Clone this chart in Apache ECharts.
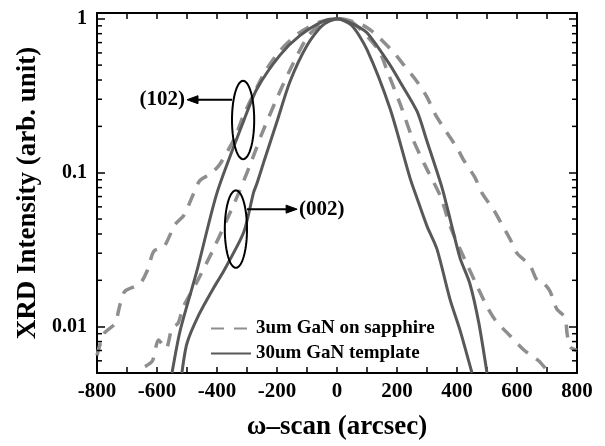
<!DOCTYPE html>
<html><head><meta charset="utf-8">
<script src="https://cdn.jsdelivr.net/npm/echarts@6/dist/echarts.min.js"></script>
<style>html,body{margin:0;padding:0;background:#fff}#c{width:605px;height:446px}</style>
</head><body><div id="c"></div>
<script>
// ---- data ----
const legendNames = ['3um GaN on sapphire', '30um GaN template'];

// 3um GaN on sapphire, (102) - wide dashed
const s102X = [-800,-777,-740,-723,-707,-657,-633,-610,-577,-540,-510,-477,-457,-417,-390,-340,-310,-262,-235,-190,-130,-60,10,90,133,190,223,267,300,327,360,400,423,460,483,523,550,577,600,643,667,690,710,733,760,767,777,800];
const s102Y = [0.0065,0.009,0.0105,0.014,0.017,0.019,0.023,0.031,0.033,0.046,0.053,0.074,0.089,0.1,0.114,0.17,0.24,0.375,0.47,0.62,0.8,0.95,1.0,0.9,0.78,0.6,0.5,0.39,0.31,0.24,0.19,0.145,0.12,0.093,0.074,0.057,0.046,0.037,0.03,0.025,0.02,0.019,0.017,0.013,0.0115,0.009,0.0074,0.007];

// 3um GaN on sapphire, (002) - narrow dashed
const s002X = [-640,-615,-595,-570,-550,-530,-512,-470,-415,-370,-330,-290,-250,-205,-158,-95,-40,10,60,140,167,212,250,293,345,381,458,500,528,575,625,672,700];
const s002Y = [0.0055,0.006,0.0082,0.0072,0.0098,0.0105,0.0135,0.019,0.031,0.048,0.072,0.112,0.18,0.29,0.46,0.78,0.95,1.0,0.92,0.62,0.46,0.275,0.17,0.112,0.07,0.043,0.02,0.0135,0.011,0.0088,0.007,0.006,0.0052];

// 30um GaN template, (102) - wide solid
const t102X = [-550,-523,-467,-400,-310,-267,-190,-123,-43,0,50,100,177,210,267,300,350,377,410,443,473,500];
const t102Y = [0.005,0.0094,0.023,0.074,0.22,0.35,0.58,0.78,0.97,1.0,0.93,0.81,0.5,0.39,0.25,0.16,0.08,0.05,0.028,0.019,0.0105,0.005];

// 30um GaN template, (002) - narrow solid
const t002X = [-517,-500,-460,-411,-378,-311,-278,-267,-243,-200,-157,-100,-50,0,50,100,177,243,267,300,333,377,410,450];
const t002Y = [0.005,0.0078,0.012,0.0179,0.0229,0.041,0.0745,0.085,0.119,0.215,0.39,0.67,0.9,1.0,0.9,0.63,0.26,0.093,0.068,0.045,0.032,0.015,0.0095,0.005];

// axes
const xMin = -800, xMax = 800, xTickStep = 100, xLabelStep = 200;
const yMin = 0.005, yMax = 1.09;
const yMinorTicks = [0.006,0.007,0.008,0.009,0.02,0.03,0.04,0.05,0.06,0.07,0.08,0.09,0.2,0.3,0.4,0.5,0.6,0.7,0.8,0.9];

// annotations (data space)
const annoNames = ['(102)', '(002)'];
const annoCenterX = [-313, -337];
const annoCenterY = [0.22, 0.043];
const annoTopY = [0.395, 0.0767];
const annoHalfW = [37, 37];
const arrowY = [0.298, 0.058];
const arrowFromX = [-350, -300];
const arrowToX = [-500, -133];

// ---- chart ----
const FONT = '"Liberation Serif","Times New Roman",serif';
const pairs = (xs, ys) => xs.map((x, i) => [x, ys[i]]);
const isPow10 = v => Math.abs(Math.log10(v) - Math.round(Math.log10(v))) < 1e-9;

const chart = echarts.init(document.getElementById('c'), null, {renderer: 'canvas'});

function lineSeries(name, xs, ys, color, width, type) {
  return {
    name, type: 'line', data: pairs(xs, ys), symbol: 'none', smooth: 0.25,
    color, lineStyle: {color, width, type}, itemStyle: {color}, z: 3
  };
}

const axisLineStyle = {show: true, onZero: false, lineStyle: {color: '#000', width: 2}};

const option = {
  animation: false,
  backgroundColor: '#fff',
  grid: {left: 97, right: 28, top: 13, bottom: 69, containLabel: false},
  legend: {
    data: legendNames, orient: 'vertical', left: 205, top: 314,
    itemWidth: 40, itemHeight: 14, itemGap: 6, selectedMode: false,
    itemStyle: {opacity: 0},
    textStyle: {fontFamily: FONT, fontWeight: 'bold', fontSize: 19, lineHeight: 17, color: '#000'}
  },
  xAxis: [{
    type: 'value', min: xMin, max: xMax, interval: xTickStep, position: 'bottom',
    name: 'ω–scan (arcsec)', nameLocation: 'middle', nameGap: 41,
    nameTextStyle: {fontFamily: FONT, fontWeight: 'bold', fontSize: 27, color: '#000'},
    axisLine: axisLineStyle,
    axisTick: {show: true, inside: true, length: 6, lineStyle: {color: '#000', width: 1.5}},
    axisLabel: {
      fontFamily: FONT, fontWeight: 'bold', fontSize: 21, color: '#000', margin: 8,
      formatter: v => (v % xLabelStep === 0 ? String(v) : '')
    },
    splitLine: {show: false}
  }, {
    type: 'value', min: xMin, max: xMax, interval: xTickStep, position: 'top',
    axisLine: axisLineStyle,
    axisTick: {show: true, inside: true, length: 6, lineStyle: {color: '#000', width: 1.5}},
    axisLabel: {show: false}, splitLine: {show: false}
  }],
  yAxis: [{
    type: 'log', logBase: 10, min: yMin, max: yMax, position: 'left',
    name: 'XRD Intensity (arb. unit)', nameLocation: 'middle', nameGap: 55,
    nameTextStyle: {fontFamily: FONT, fontWeight: 'bold', fontSize: 27, color: '#000'},
    axisLine: axisLineStyle,
    axisTick: {show: true, inside: true, length: 8, lineStyle: {color: '#000', width: 1.5}},
    axisLabel: {
      fontFamily: FONT, fontWeight: 'bold', fontSize: 20, color: '#000', margin: 10,
      formatter: v => (isPow10(v) ? String(+v.toPrecision(3)) : '')
    },
    splitLine: {show: false}
  }, {
    type: 'log', logBase: 10, min: yMin, max: yMax, position: 'right',
    axisLine: axisLineStyle,
    axisTick: {show: true, inside: true, length: 8, lineStyle: {color: '#000', width: 1.5}},
    axisLabel: {show: false}, splitLine: {show: false}
  }],
  series: [
    lineSeries(legendNames[0], s102X, s102Y, '#8e8e8e', 3.5, [13, 10]),
    lineSeries(legendNames[0], s002X, s002Y, '#8e8e8e', 3.5, [13, 10]),
    lineSeries(legendNames[1], t102X, t102Y, '#585858', 3, 'solid'),
    lineSeries(legendNames[1], t002X, t002Y, '#585858', 3, 'solid'),
    {
      type: 'custom', name: 'minorTicks', silent: true, z: 5,
      data: yMinorTicks.map(v => [xMin, v]),
      encode: {x: 0, y: 1},
      renderItem: (params, api) => {
        const v = yMinorTicks[params.dataIndex];
        const L = api.coord([xMin, v]);
        const R = api.coord([xMax, v]);
        const st = {stroke: '#000', lineWidth: 1.5};
        return {type: 'group', children: [
          {type: 'line', shape: {x1: L[0], y1: L[1], x2: L[0] + 5, y2: L[1]}, style: st},
          {type: 'line', shape: {x1: R[0] - 5, y1: R[1], x2: R[0], y2: R[1]}, style: st}
        ]};
      }
    },
    {
      type: 'custom', name: 'annotations', silent: true, z: 6,
      data: annoCenterX.map((x, i) => [x, annoCenterY[i]]),
      encode: {x: 0, y: 1},
      renderItem: (params, api) => {
        const i = params.dataIndex;
        const c = api.coord([annoCenterX[i], annoCenterY[i]]);
        const t = api.coord([annoCenterX[i], annoTopY[i]]);
        const r = api.coord([annoCenterX[i] + annoHalfW[i], annoCenterY[i]]);
        const ry = c[1] - t[1], rx = r[0] - c[0];
        const pts = [];
        for (let k = 0; k < 72; k++) {
          const a = k / 72 * Math.PI * 2;
          pts.push([c[0] + rx * Math.cos(a), c[1] + ry * Math.sin(a)]);
        }
        const a = api.coord([arrowFromX[i], arrowY[i]]);
        const b = api.coord([arrowToX[i], arrowY[i]]);
        const dir = Math.sign(b[0] - a[0]);
        const headL = 11, headW = 4;
        const st = {stroke: '#000', lineWidth: 2, fill: null};
        return {type: 'group', children: [
          {type: 'polygon', shape: {points: pts}, style: st},
          {type: 'line', shape: {x1: a[0], y1: a[1], x2: b[0] - dir * headL * 0.6, y2: b[1]}, style: st},
          {type: 'polygon', shape: {points: [[b[0], b[1]], [b[0] - dir * headL, b[1] - headW], [b[0] - dir * headL, b[1] + headW]]},
           style: {fill: '#000', stroke: '#000', lineWidth: 1}},
          {type: 'text', x: b[0] + dir * 2, y: b[1],
           style: {text: annoNames[i], fill: '#000', font: 'bold 21px ' + FONT,
                   align: dir < 0 ? 'right' : 'left', verticalAlign: 'middle'}}
        ]};
      }
    }
  ]
};
chart.setOption(option);
</script></body></html>
